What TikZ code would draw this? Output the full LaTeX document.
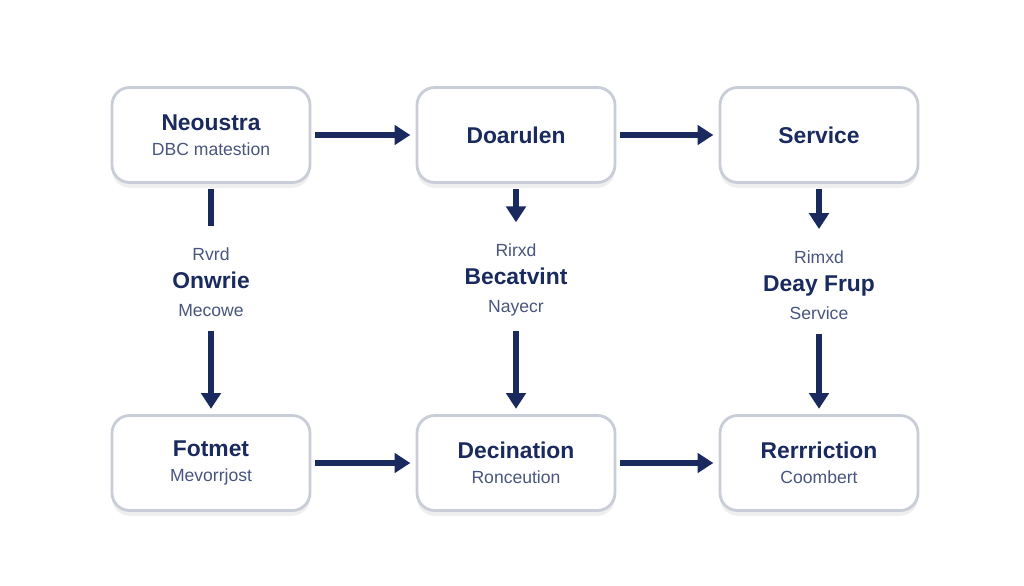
\documentclass[tikz,border=0pt]{standalone}
\usepackage{fontspec}
\setmainfont{Liberation Sans}
\usetikzlibrary{arrows.meta, positioning, shadows}
\definecolor{navy}{HTML}{1B2A5E}
\definecolor{edge}{HTML}{C9CDD8}

\begin{document}
\begin{tikzpicture}[
    x=0.02cm, y=-0.02cm,
    >={Triangle[length=9pt, width=11pt]},
    box/.style={rectangle, draw=edge, line width=1.6pt, rounded corners=10pt, fill=white,
        align=center, minimum height=1.9cm, minimum width=3.96cm, text=navy,
        drop shadow={shadow xshift=0pt, shadow yshift=-3pt, opacity=0.12}},
    lbl/.style={text=navy, align=center, inner sep=0pt},
    line/.style={draw=navy, line width=3pt, ->}
]
\newcommand{\ttl}[1]{{\fontsize{13}{15}\selectfont\bfseries #1}}
\newcommand{\subt}[1]{{\fontsize{10}{12}\selectfont\color{navy!80} #1}}
\useasboundingbox[fill=white] (0,0) rectangle (1024,585);

% Nodes
\node[box] (neou) at (211,135) {\ttl{Neoustra}\\[2pt]\subt{DBC matestion}};
\node[box] (doar) at (516,135) {\ttl{Doarulen}};
\node[box] (serv) at (819,135) {\ttl{Service}};
\node[box] (fotm) at (211,463) {\ttl{Fotmet}\\[2pt]\subt{Mevorrjost}};
\node[box] (deci) at (516,463) {\ttl{Decination}\\[2pt]\subt{Ronceution}};
\node[box] (rerr) at (819,463) {\ttl{Rerrriction}\\[2pt]\subt{Coombert}};

% Middle labels
\node[lbl] (onw) at (211,282) {\subt{Rvrd}\\[4pt]\ttl{Onwrie}\\[4pt]\subt{Mecowe}};
\node[lbl] (bec) at (516,280) {\subt{Rirxd}\\[4pt]\ttl{Becatvint}\\[4pt]\subt{Nayecr}};
\node[lbl] (day) at (819,285) {\subt{Rimxd}\\[4pt]\ttl{Deay Frup}\\[4pt]\subt{Service}};

% Edges
\draw[line] ([xshift=2pt]neou.east) -- ([xshift=-3pt]doar.west);
\draw[line] ([xshift=2pt]doar.east) -- ([xshift=-3pt]serv.west);
\draw[line] ([xshift=2pt]fotm.east) -- ([xshift=-3pt]deci.west);
\draw[line] ([xshift=2pt]deci.east) -- ([xshift=-3pt]rerr.west);

\draw[draw=navy, line width=3pt] ([yshift=-3pt]neou.south) -- ([yshift=12pt]onw.north);
\draw[line] ([yshift=-8pt]onw.south) -- ([yshift=3pt]fotm.north);
\draw[line] ([yshift=-3pt]doar.south) -- ([yshift=12pt]bec.north);
\draw[line] ([yshift=-8pt]bec.south) -- ([yshift=3pt]deci.north);
\draw[line] ([yshift=-3pt]serv.south) -- ([yshift=12pt]day.north);
\draw[line] ([yshift=-8pt]day.south) -- ([yshift=3pt]rerr.north);
\end{tikzpicture}
\end{document}
